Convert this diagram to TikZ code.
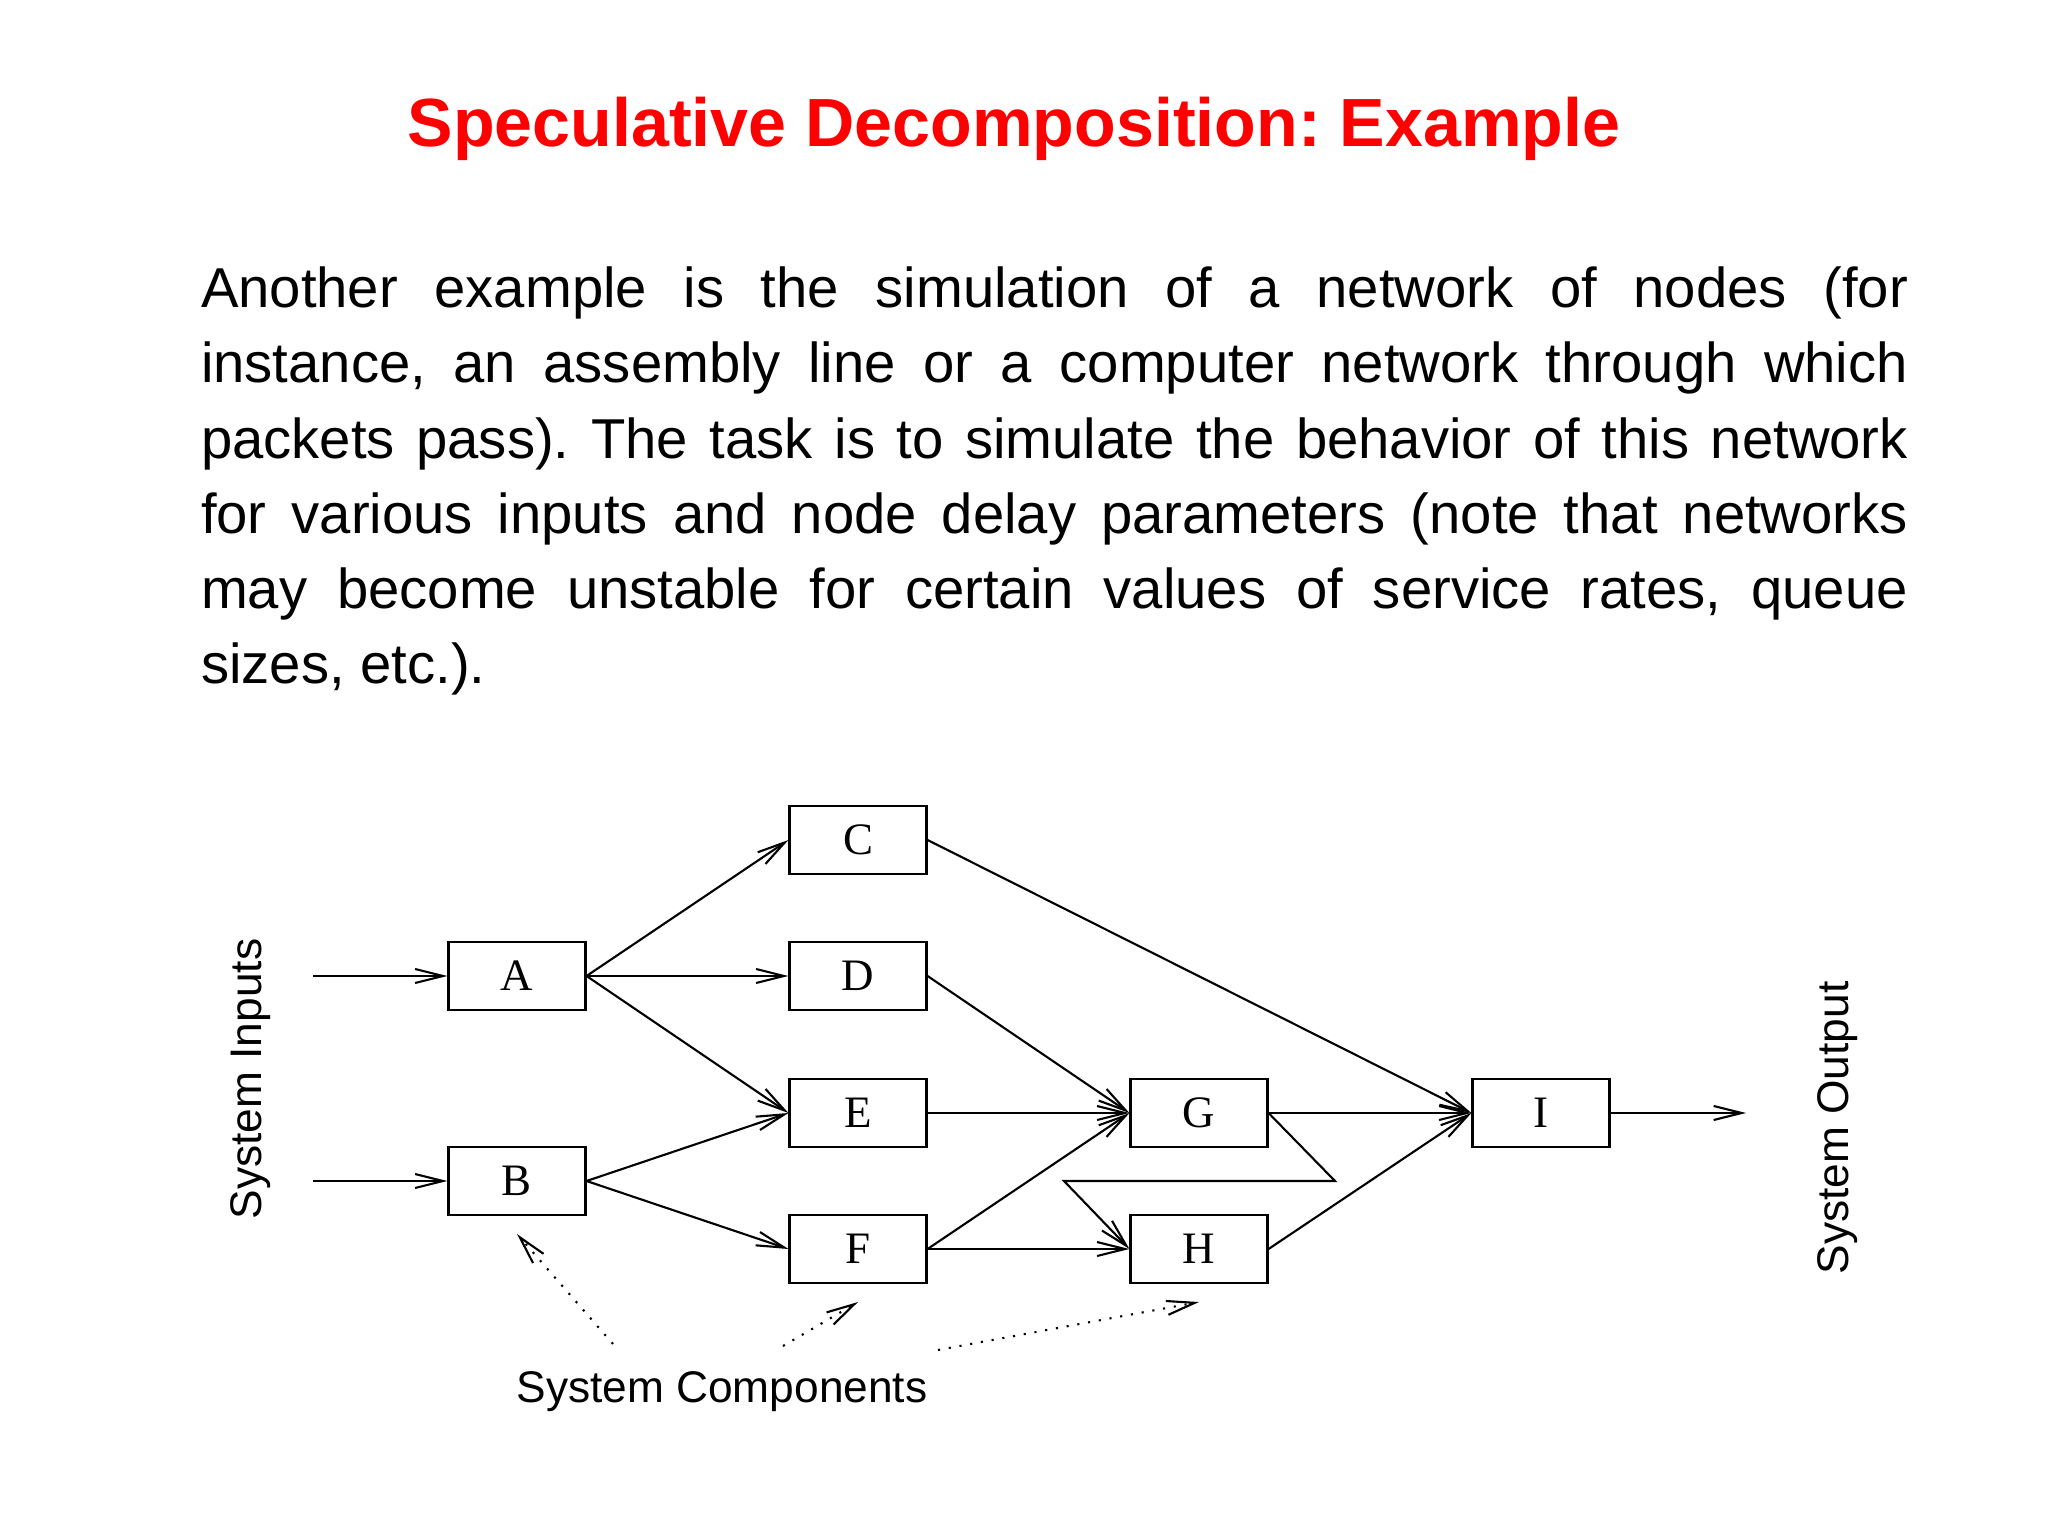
\documentclass[tikz,border=0pt]{standalone}
\usepackage{amsmath}
\usepackage{fontspec}
\setmainfont{Liberation Sans}
\newfontfamily\boxfont{Liberation Serif}
\usetikzlibrary{arrows.meta}
\frenchspacing

\begin{document}
\begin{tikzpicture}[
	>={Straight Barb[length=2.8mm,width=1.4mm]},
	line width=0.6pt,
	comp/.style={draw, minimum width=1.37cm, minimum height=0.68cm, inner sep=0pt, font=\boxfont\fontsize{12.8}{14}\selectfont},
	lbl/.style={inner sep=0pt, font=\fontsize{12.6}{14}\selectfont},
	hint/.style={->, dash pattern=on 0.6pt off 2.5pt}
]
	\useasboundingbox (0, 0) rectangle (20.48, -15.36);
	\node[anchor=base, inner sep=0pt, text=red, font=\bfseries\fontsize{19.4}{24}\selectfont] (title) at (10.14, -1.47) {Speculative Decomposition: Example};
	\node[anchor=north west, inner sep=0pt, text width=17.07cm, align=justify, font=\fontsize{16}{21.4}\selectfont] (para) at (2.00, -2.54) {\tolerance=9999 \strut Another example is the simulation of a network of nodes (for\linebreak instance, an assembly line or a computer network through which\linebreak packets pass). The task is to simulate the behavior of this network\linebreak for various inputs and node delay parameters (note that networks\linebreak may become unstable for certain values of service rates, queue\linebreak sizes, etc.).};

	\node[comp] (A) at (5.17, -9.76) {A};
	\node[comp] (B) at (5.17, -11.81) {B};
	\node[comp] (C) at (8.58, -8.40) {C};
	\node[comp] (D) at (8.58, -9.76) {D};
	\node[comp] (E) at (8.58, -11.13) {E};
	\node[comp] (F) at (8.58, -12.49) {F};
	\node[comp] (G) at (11.99, -11.13) {G};
	\node[comp] (H) at (11.99, -12.49) {H};
	\node[comp] (I) at (15.41, -11.13) {I};

	\coordinate (inA) at (3.13, -9.76);
	\coordinate (inB) at (3.13, -11.81);
	\coordinate (out) at (17.46, -11.13);
	\coordinate (backR) at (13.35, -11.81);
	\coordinate (backL) at (10.64, -11.81);

	\draw[->] (inA) -- (A.west);
	\draw[->] (inB) -- (B.west);
	\draw[->] (A.east) -- (C.west);
	\draw[->] (A.east) -- (D.west);
	\draw[->] (A.east) -- (E.west);
	\draw[->] (B.east) -- (E.west);
	\draw[->] (B.east) -- (F.west);
	\draw[->] (C.east) -- (I.west);
	\draw[->] (D.east) -- (G.west);
	\draw[->] (E.east) -- (G.west);
	\draw[->] (F.east) -- (G.west);
	\draw[->] (F.east) -- (H.west);
	\draw[->] (G.east) -- (I.west);
	\draw[->] (H.east) -- (I.west);
	\draw[->] (G.east) -- (backR) -- (backL) -- (H.west);
	\draw[->] (I.east) -- (out);

	\node[lbl, anchor=base, rotate=90] (inputs) at (2.62, -10.79) {System Inputs};
	\node[lbl, anchor=base, rotate=90] (output) at (18.48, -11.28) {System Output};
	\node[lbl, anchor=base] (parts) at (7.22, -14.02) {System Components};

	\coordinate (fromB) at (6.13, -13.44);
	\coordinate (fromF) at (7.83, -13.46);
	\coordinate (fromH) at (9.38, -13.50);
	\draw[hint] (fromB) -- ([yshift=-0.18cm]B.south);
	\draw[hint] (fromF) -- ([yshift=-0.18cm]F.south);
	\draw[hint] (fromH) -- ([yshift=-0.18cm]H.south);
\end{tikzpicture}
\end{document}
